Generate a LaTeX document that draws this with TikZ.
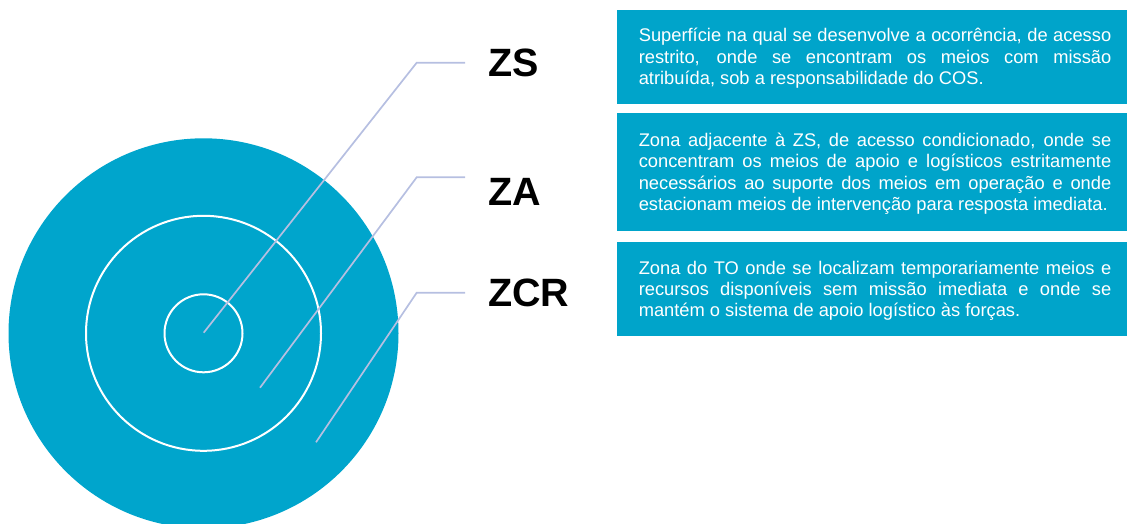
\documentclass[tikz,border=0pt]{standalone}
\usepackage{fontspec}
\setmainfont{Liberation Sans}
\definecolor{zonecol}{RGB}{0,165,204}
\definecolor{boxcol}{RGB}{0,164,202}
\definecolor{leadcol}{RGB}{182,191,225}
\tikzset{
  ring/.style={circle, draw=white, line width=2pt, inner sep=0pt},
  leader/.style={draw=leadcol, line width=1.7pt, line join=miter},
  zlabel/.style={anchor=base west, inner sep=0pt, outer sep=0pt, font=\fontsize{39.5}{40}\selectfont\bfseries},
  descbox/.style={fill=boxcol, draw=none, inner sep=0pt, anchor=north west, minimum width=510.3pt},
  desc/.style={anchor=base west, inner sep=0pt, outer sep=0pt, text=white, text width=472.5pt, align=justify, font=\fontsize{18.3}{21.3}\selectfont}
}
\begin{document}
\begin{tikzpicture}[x=1pt,y=-1pt]
\useasboundingbox (0,0) rectangle (1127,524);
\clip (0,0) rectangle (1127,524);
% circles
\node[circle, fill=zonecol, inner sep=0pt, minimum size=390pt] (czcr) at (203.5,333.3) {};
\node[ring, minimum size=235pt] (cza) at (203.5,333.3) {};
\node[ring, minimum size=78pt] (czs) at (203.5,333.3) {};
% labels
\node[zlabel] (lzs) at (488,76.7) {ZS};
\node[zlabel] (lza) at (488,205) {ZA};
\node[zlabel] (lzcr) at (488,306) {ZCR};
% leader lines
\coordinate (s1) at (203.7,332.7);
\coordinate (e1) at (416.7,62.7);
\coordinate (h1) at (465,62.7);
\coordinate (s2) at (260,387.7);
\coordinate (e2) at (416.7,177.3);
\coordinate (h2) at (465,177.3);
\coordinate (s3) at (316,442.3);
\coordinate (e3) at (416.7,292.7);
\coordinate (h3) at (465,292.7);
\draw[leader] (s1) -- (e1) -- (h1);
\draw[leader] (s2) -- (e2) -- (h2);
\draw[leader] (s3) -- (e3) -- (h3);
% description boxes
\node[descbox, minimum height=93.8pt] (b1) at (616.7,10) {};
\node[descbox, minimum height=117.7pt] (b2) at (616.7,113.3) {};
\node[descbox, minimum height=93.3pt] (b3) at (616.7,242) {};
\node[desc] (t1) at (638.8,41.8) {Superfície na qual se desenvolve a ocorrência, de acesso\linebreak restrito, onde se encontram os meios com missão\linebreak atribuída, sob a responsabilidade do COS.};
\node[desc] (t2) at (638.8,146.7) {Zona adjacente à ZS, de acesso condicionado, onde se\linebreak concentram os meios de apoio e logísticos estritamente\linebreak necessários ao suporte dos meios em operação e onde\linebreak estacionam meios de intervenção para resposta imediata.};
\node[desc] (t3) at (638.8,274) {Zona do TO onde se localizam temporariamente meios e\linebreak recursos disponíveis sem missão imediata e onde se\linebreak mantém o sistema de apoio logístico às forças.};
\end{tikzpicture}
\end{document}
